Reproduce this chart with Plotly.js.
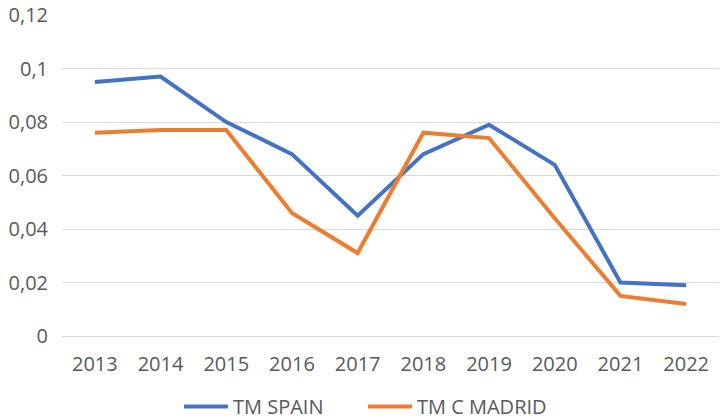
<!DOCTYPE html>
<html><head><meta charset="utf-8">
<script src="https://cdn.plot.ly/plotly-3.0.1.min.js"></script>
<style>html,body{margin:0;padding:0;background:#fff}#chart{width:720px;height:420px}</style>
</head><body><div id="chart"></div>
<script>
const years = ['2013','2014','2015','2016','2017','2018','2019','2020','2021','2022'];
const tmSpain = [0.095,0.097,0.080,0.068,0.045,0.068,0.079,0.064,0.020,0.019];
const tmMadrid = [0.076,0.077,0.077,0.046,0.031,0.076,0.074,0.044,0.015,0.012];
const fontFam = '"Open Sans", sans-serif';
const traces = [
  {x: years, y: tmSpain, name: 'TM SPAIN', type: 'scatter', mode: 'lines', line: {color: '#4472C4', width: 4}},
  {x: years, y: tmMadrid, name: 'TM C MADRID', type: 'scatter', mode: 'lines', line: {color: '#ED7D31', width: 4}}
];
const layout = {
  width: 720, height: 420,
  margin: {l: 62, r: 1, t: 15, b: 84},
  paper_bgcolor: '#fff', plot_bgcolor: '#fff',
  separators: ',.',
  font: {family: fontFam, size: 20, color: '#595959'},
  xaxis: {type: 'category', range: [-0.5, 9.5], showgrid: false, showline: false, ticks: '', ticklabelstandoff: 14, tickfont: {size: 20, color: '#595959'}, automargin: false},
  yaxis: {range: [0, 0.12001], dtick: 0.02, showgrid: true, gridcolor: '#d9d9d9', gridwidth: 1, zeroline: true, zerolinecolor: '#d9d9d9', zerolinewidth: 1, ticks: '', ticklabelstandoff: 13, ticklabeloverflow: 'allow', tickfont: {size: 20, color: '#595959'}, automargin: false},
  showlegend: true,
  legend: {orientation: 'h', x: 0.2486, xanchor: 'left', xref: 'container', yref: 'container', y: 0.032, yanchor: 'middle', font: {size: 20, color: '#595959'}, traceorder: 'normal', itemwidth: 44, entrywidth: 125, entrywidthmode: 'pixels'}
};
Plotly.newPlot('chart', traces, layout, {displayModeBar: false, staticPlot: true});
</script></body></html>
